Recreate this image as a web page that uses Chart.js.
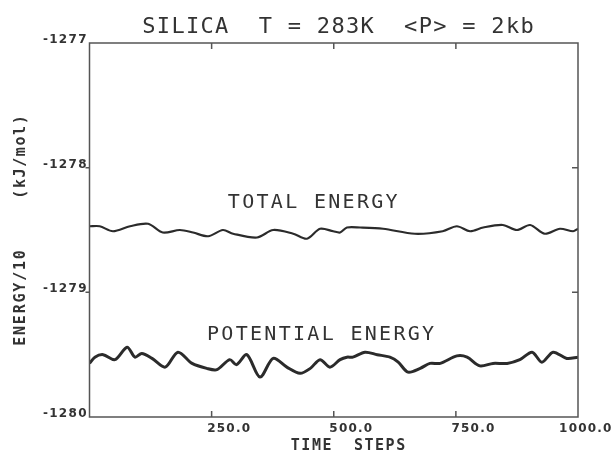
<!DOCTYPE html>
<html>
<head>
<meta charset="utf-8">
<script src="https://cdn.jsdelivr.net/npm/chart.js@4.4.1/dist/chart.umd.min.js"></script>
<style>
  html, body { margin: 0; padding: 0; background: #fff; }
  #wrap { width: 614px; height: 458px; }
</style>
</head>
<body>
<div id="wrap"><canvas id="c" width="614" height="458"></canvas></div>
<script>
// Molecular dynamics run: energies per time step
const timeStepsTotal = [0, 21, 48, 83, 120, 150, 185, 212, 243, 273, 294, 343, 376, 417, 445, 472, 499, 513, 527, 554, 601, 666, 723, 752, 779, 806, 846, 875, 902, 932, 963, 990, 1000];
const totalEnergy = [-1278.47, -1278.47, -1278.51, -1278.47, -1278.45, -1278.52, -1278.50, -1278.52, -1278.55, -1278.50, -1278.53, -1278.56, -1278.50, -1278.53, -1278.57, -1278.49, -1278.51, -1278.52, -1278.48, -1278.48, -1278.49, -1278.53, -1278.51, -1278.47, -1278.51, -1278.48, -1278.46, -1278.50, -1278.46, -1278.53, -1278.49, -1278.51, -1278.49];

const timeStepsPotential = [0, 11, 28, 52, 77, 93, 107, 128, 155, 181, 210, 240, 261, 287, 301, 322, 349, 376, 404, 431, 452, 472, 492, 513, 527, 539, 564, 589, 615, 632, 652, 677, 697, 718, 752, 773, 799, 826, 855, 881, 906, 926, 949, 977, 1000];
const potentialEnergy = [-1279.57, -1279.52, -1279.50, -1279.54, -1279.44, -1279.52, -1279.49, -1279.53, -1279.60, -1279.48, -1279.57, -1279.61, -1279.62, -1279.54, -1279.58, -1279.50, -1279.68, -1279.53, -1279.60, -1279.65, -1279.61, -1279.54, -1279.60, -1279.54, -1279.52, -1279.52, -1279.48, -1279.50, -1279.52, -1279.56, -1279.64, -1279.61, -1279.57, -1279.57, -1279.51, -1279.52, -1279.59, -1279.57, -1279.57, -1279.54, -1279.48, -1279.56, -1279.48, -1279.53, -1279.52];

const xTickValues = [250, 500, 750, 1000];
const xTickLabels = ['250.0', '500.0', '750.0', '1000.0'];
const yTickValues = [-1280, -1279, -1278, -1277];
const yTickLabels = ['-1280', '-1279', '-1278', '-1277'];

const seriesNames = ['TOTAL ENERGY', 'POTENTIAL ENERGY'];
const chartTitle = 'SILICA  T = 283K  <P> = 2kb';
const xAxisTitle = 'TIME  STEPS';
const yAxisTitleParts = ['ENERGY/10', '(kJ/mol)'];

const INK = '#2b2b2b';
const FRAME = '#555';
const MONO = '"DejaVu Sans Mono", "Liberation Mono", monospace';
const TICK_FONT = 'bold 12px "DejaVu Sans", sans-serif';

function pairs(xs, ys) {
  return xs.map((x, i) => ({ x: x, y: ys[i] }));
}

function setSpacing(ctx, spacing) {
  if ('letterSpacing' in ctx) ctx.letterSpacing = spacing + 'px';
}

function drawText(ctx, text, x, y, font, spacing, color, align) {
  ctx.save();
  ctx.font = font;
  ctx.fillStyle = color || INK;
  ctx.textAlign = align || 'center';
  ctx.textBaseline = 'middle';
  setSpacing(ctx, spacing);
  const shift = (align === 'right') ? spacing : (align === 'left' ? 0 : spacing / 2);
  ctx.fillText(text, x + shift, y);
  ctx.restore();
}

function textWidth(ctx, text, font, spacing) {
  ctx.save();
  ctx.font = font;
  setSpacing(ctx, spacing);
  const w = ctx.measureText(text).width;
  ctx.restore();
  return w;
}

// Frame, inward/outward tick marks, tick labels and all annotations
const plotDecor = {
  id: 'plotDecor',
  afterDraw(chart) {
    const ctx = chart.ctx;
    const a = chart.chartArea;
    const xs = chart.scales.x;
    const ys = chart.scales.y;

    ctx.save();
    ctx.strokeStyle = FRAME;
    ctx.lineWidth = 1.5;
    ctx.strokeRect(a.left, a.top, a.right - a.left, a.bottom - a.top);

    ctx.beginPath();
    xTickValues.forEach(v => {
      if (v >= xs.max) return;
      const px = xs.getPixelForValue(v);
      ctx.moveTo(px, a.bottom); ctx.lineTo(px, a.bottom - 6);
      ctx.moveTo(px, a.top); ctx.lineTo(px, a.top + 6);
    });
    yTickValues.forEach(v => {
      if (v <= ys.min || v >= ys.max) return;
      const py = ys.getPixelForValue(v);
      ctx.moveTo(a.left - 4, py); ctx.lineTo(a.left, py);
      ctx.moveTo(a.right - 6, py); ctx.lineTo(a.right, py);
    });
    ctx.stroke();
    ctx.restore();

    // x tick labels sit just right of their tick, kept inside the canvas
    xTickValues.forEach((v, i) => {
      const px = xs.getPixelForValue(v);
      const w = textWidth(ctx, xTickLabels[i], TICK_FONT, 1.2);
      const cx = Math.min(px + 17, chart.width - 2 - w / 2);
      drawText(ctx, xTickLabels[i], cx, a.bottom + 12, TICK_FONT, 1.2, '#333');
    });

    // y tick labels, right aligned against the left axis
    yTickValues.forEach((v, i) => {
      const py = ys.getPixelForValue(v);
      drawText(ctx, yTickLabels[i], a.left - 3, py - 3, TICK_FONT, 1.3, '#333', 'right');
    });

    // title
    drawText(ctx, chartTitle, 338, 27, '22px ' + MONO, 1.3, '#333');

    // series labels placed in data space above each curve
    drawText(ctx, seriesNames[0], xs.getPixelForValue(457), ys.getPixelForValue(-1278.283), '20px ' + MONO, 2.3, '#333');
    drawText(ctx, seriesNames[1], xs.getPixelForValue(473), ys.getPixelForValue(-1279.338), '20px ' + MONO, 2.3, '#333');

    // axis titles
    drawText(ctx, xAxisTitle, 348, 446, 'bold 15px ' + MONO, 1.5, '#333');
    ctx.save();
    ctx.translate(21, 0);
    ctx.rotate(-Math.PI / 2);
    drawText(ctx, yAxisTitleParts[0], -298, 0, 'bold 15px ' + MONO, 1.8, '#333');
    drawText(ctx, yAxisTitleParts[1], -157, 0, 'bold 15px ' + MONO, 1.6, '#333');
    ctx.restore();
  }
};

new Chart(document.getElementById('c'), {
  type: 'line',
  data: {
    datasets: [
      {
        label: seriesNames[0],
        data: pairs(timeStepsTotal, totalEnergy),
        borderColor: INK,
        borderWidth: 2.2,
        pointRadius: 0,
        tension: 0.3,
        fill: false
      },
      {
        label: seriesNames[1],
        data: pairs(timeStepsPotential, potentialEnergy),
        borderColor: INK,
        borderWidth: 3,
        pointRadius: 0,
        tension: 0.3,
        fill: false
      }
    ]
  },
  options: {
    responsive: false,
    animation: false,
    devicePixelRatio: 1,
    layout: { padding: { left: 0, right: 36, top: 43, bottom: 0 } },
    plugins: {
      legend: { display: false },
      title: { display: false },
      tooltip: { enabled: false }
    },
    scales: {
      x: {
        type: 'linear',
        min: 0,
        max: 1000,
        grid: { display: false, drawTicks: false },
        border: { display: false },
        ticks: { display: false },
        afterBuildTicks(scale) { scale.ticks = xTickValues.map(v => ({ value: v })); },
        afterFit(scale) { scale.height = 41; }
      },
      y: {
        type: 'linear',
        min: -1280,
        max: -1277,
        grid: { display: false, drawTicks: false },
        border: { display: false },
        ticks: { display: false },
        afterBuildTicks(scale) { scale.ticks = yTickValues.map(v => ({ value: v })); },
        afterFit(scale) { scale.width = 89.5; }
      }
    }
  },
  plugins: [plotDecor]
});
</script>
</body>
</html>
